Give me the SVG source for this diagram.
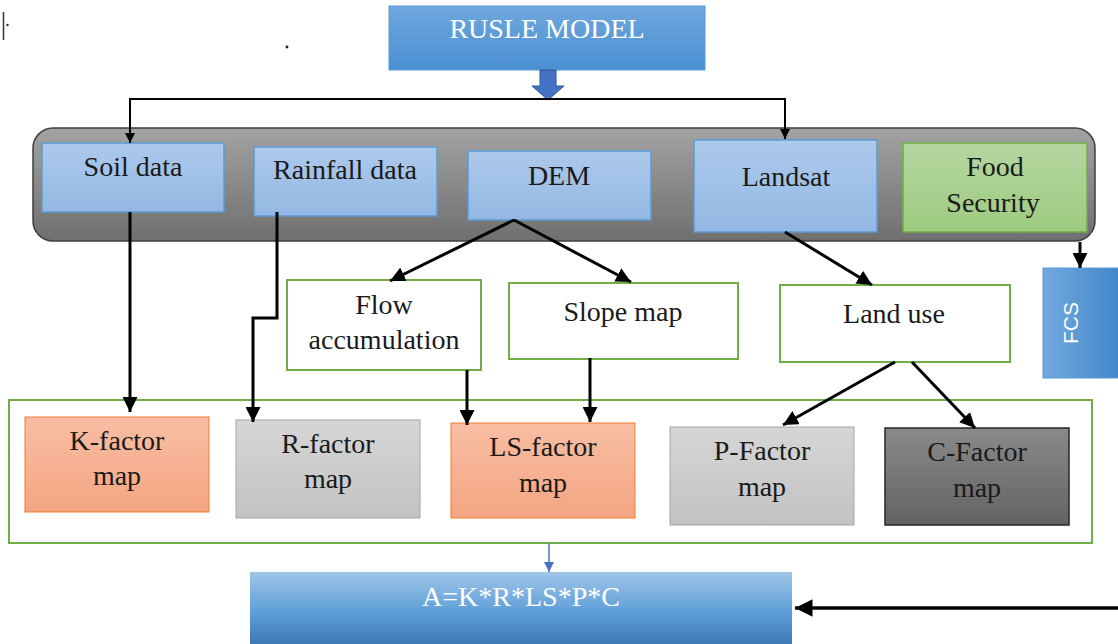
<svg xmlns="http://www.w3.org/2000/svg" width="1118" height="644" viewBox="0 0 1118 644">
<defs>
<linearGradient id="gBlueTop" x1="0" y1="0" x2="0" y2="1"><stop offset="0" stop-color="#6fa7dd"/><stop offset="1" stop-color="#4a8fd2"/></linearGradient>
<linearGradient id="gGray" x1="0" y1="0" x2="0" y2="1"><stop offset="0" stop-color="#a3a3a3"/><stop offset="1" stop-color="#6f6f6f"/></linearGradient>
<linearGradient id="gLight" x1="0" y1="0" x2="0" y2="1"><stop offset="0" stop-color="#adc9eb"/><stop offset="1" stop-color="#93b8e3"/></linearGradient>
<linearGradient id="gGreen" x1="0" y1="0" x2="0" y2="1"><stop offset="0" stop-color="#b5d6a0"/><stop offset="1" stop-color="#9dcb80"/></linearGradient>
<linearGradient id="gSalmon" x1="0" y1="0" x2="0" y2="1"><stop offset="0" stop-color="#f8bea3"/><stop offset="1" stop-color="#f4a582"/></linearGradient>
<linearGradient id="gLGray" x1="0" y1="0" x2="0" y2="1"><stop offset="0" stop-color="#d6d6d6"/><stop offset="1" stop-color="#c2c2c2"/></linearGradient>
<linearGradient id="gDGray" x1="0" y1="0" x2="0" y2="1"><stop offset="0" stop-color="#8a8a8a"/><stop offset="1" stop-color="#636363"/></linearGradient>
<linearGradient id="gFcs" x1="0" y1="0" x2="1" y2="0"><stop offset="0" stop-color="#72a9de"/><stop offset="1" stop-color="#3f86c8"/></linearGradient>
<linearGradient id="gEq" x1="0" y1="0" x2="0" y2="1"><stop offset="0" stop-color="#9fc5e8"/><stop offset="0.5" stop-color="#5e9fd8"/><stop offset="1" stop-color="#3470ac"/></linearGradient>
<marker id="ah" viewBox="0 0 10 10" refX="10" refY="5" markerWidth="5" markerHeight="5" markerUnits="strokeWidth" orient="auto"><path d="M0,0 L10,5 L0,10 z" fill="#000"/></marker>
<marker id="ahb" viewBox="0 0 10 10" refX="10" refY="5" markerWidth="7" markerHeight="7" markerUnits="strokeWidth" orient="auto"><path d="M0,0 L10,5 L0,10 z" fill="#4472c4"/></marker>
</defs>
<style>
text{font-family:"Liberation Serif","Times New Roman",serif;font-size:28px;fill:#1a1a1a;text-anchor:middle}
.w{fill:#ffffff}
.c{fill:none;stroke:#000;stroke-width:3;marker-end:url(#ah)}
.bl{fill:url(#gLight);stroke:#5b9bd5;stroke-width:1.5}
.wg{fill:#ffffff;stroke:#70ad47;stroke-width:2}
</style>
<!-- stray marks -->
<line x1="3.5" y1="12" x2="3.5" y2="40" stroke="#333" stroke-width="1.5"/>
<circle cx="7.5" cy="25" r="1.2" fill="#333"/>
<circle cx="287" cy="47" r="1.4" fill="#222"/>

<g id="rusle">
<rect x="389" y="6" width="316" height="64" fill="url(#gBlueTop)" stroke="#5b9bd5" stroke-width="1"/>
<text class="w" x="547" y="38">RUSLE MODEL</text>
</g>
<g id="container">
<rect x="33" y="128" width="1062" height="113" rx="20" fill="url(#gGray)" stroke="#3f3f3f" stroke-width="1.5"/>
</g>
<g id="soil"><rect class="bl" x="42" y="143" width="182" height="69"/><text x="133" y="176">Soil data</text></g>
<g id="rainfall"><rect class="bl" x="254" y="147" width="183" height="69"/><text x="345" y="179">Rainfall data</text></g>
<g id="dem"><rect class="bl" x="468" y="151" width="183" height="69"/><text x="559" y="185">DEM</text></g>
<g id="landsat"><rect class="bl" x="694" y="140" width="183" height="92"/><text x="786" y="186">Landsat</text></g>
<g id="food"><rect x="903" y="143" width="184" height="89" fill="url(#gGreen)" stroke="#70ad47" stroke-width="1.5"/><text x="995" y="176">Food</text><text x="993" y="212">Security</text></g>
<g id="fcs"><rect x="1043" y="268" width="80" height="110" fill="url(#gFcs)" stroke="#5b9bd5" stroke-width="1"/><text class="w" transform="translate(1070,323) rotate(-90)" x="0" y="7.5" style="font-family:'Liberation Sans',Arial,sans-serif;font-size:21px">FCS</text></g>
<g id="flow"><rect class="wg" x="287" y="280" width="194" height="90"/><text x="384" y="314">Flow</text><text x="384" y="349">accumulation</text></g>
<g id="slope"><rect class="wg" x="509" y="283" width="229" height="76"/><text x="623" y="321">Slope map</text></g>
<g id="landuse"><rect class="wg" x="780" y="285" width="230" height="77"/><text x="894" y="323">Land use</text></g>
<g id="factors"><rect x="9" y="400" width="1083" height="143" fill="none" stroke="#70ad47" stroke-width="2"/></g>
<g id="kfactor"><rect x="25" y="417" width="184" height="95" fill="url(#gSalmon)" stroke="#ed7d31" stroke-width="1"/><text x="117" y="450">K-factor</text><text x="117" y="485">map</text></g>
<g id="rfactor"><rect x="236" y="420" width="184" height="98" fill="url(#gLGray)" stroke="#a5a5a5" stroke-width="1"/><text x="328" y="453">R-factor</text><text x="328" y="488">map</text></g>
<g id="lsfactor"><rect x="451" y="423" width="184" height="95" fill="url(#gSalmon)" stroke="#ed7d31" stroke-width="1"/><text x="543" y="456">LS-factor</text><text x="543" y="492">map</text></g>
<g id="pfactor"><rect x="670" y="427" width="184" height="98" fill="url(#gLGray)" stroke="#a5a5a5" stroke-width="1"/><text x="762" y="460">P-Factor</text><text x="762" y="496">map</text></g>
<g id="cfactor"><rect x="885" y="428" width="184" height="97" fill="url(#gDGray)" stroke="#262626" stroke-width="1.5"/><text x="977" y="461">C-Factor</text><text x="977" y="497">map</text></g>
<g id="equation"><rect x="250" y="572" width="542" height="80" fill="url(#gEq)"/><text class="w" x="521" y="606">A=K*R*LS*P*C</text></g>

<g id="connectors">
<path d="M540,70 h16 v16 h8 l-16,14 l-16,-14 h8 z" fill="#4472c4" stroke="#2f5597" stroke-width="1"/>
<path d="M130,99 H785" fill="none" stroke="#000" stroke-width="2"/>
<path class="c" d="M130,98 V143" style="stroke-width:2"/>
<path class="c" d="M785,98 V139" style="stroke-width:2"/>
<path class="c" d="M1080,242 V268"/>
<path class="c" d="M514,220 L390,281"/>
<path class="c" d="M514,220 L631,282"/>
<path class="c" d="M785,232 L872,285"/>
<path class="c" d="M895,362 L783,425"/>
<path class="c" d="M912,362 L975,428"/>
<path class="c" d="M130,212 V412"/>
<path class="c" d="M277,212 V318 H253 V422"/>
<path class="c" d="M467,370 V425"/>
<path class="c" d="M590,358 V422"/>
<path d="M549,543 V572" fill="none" stroke="#4472c4" stroke-width="1.5" marker-end="url(#ahb)"/>
<path class="c" d="M1118,608 H795" style="stroke-width:3.5"/>
</g>
</svg>
